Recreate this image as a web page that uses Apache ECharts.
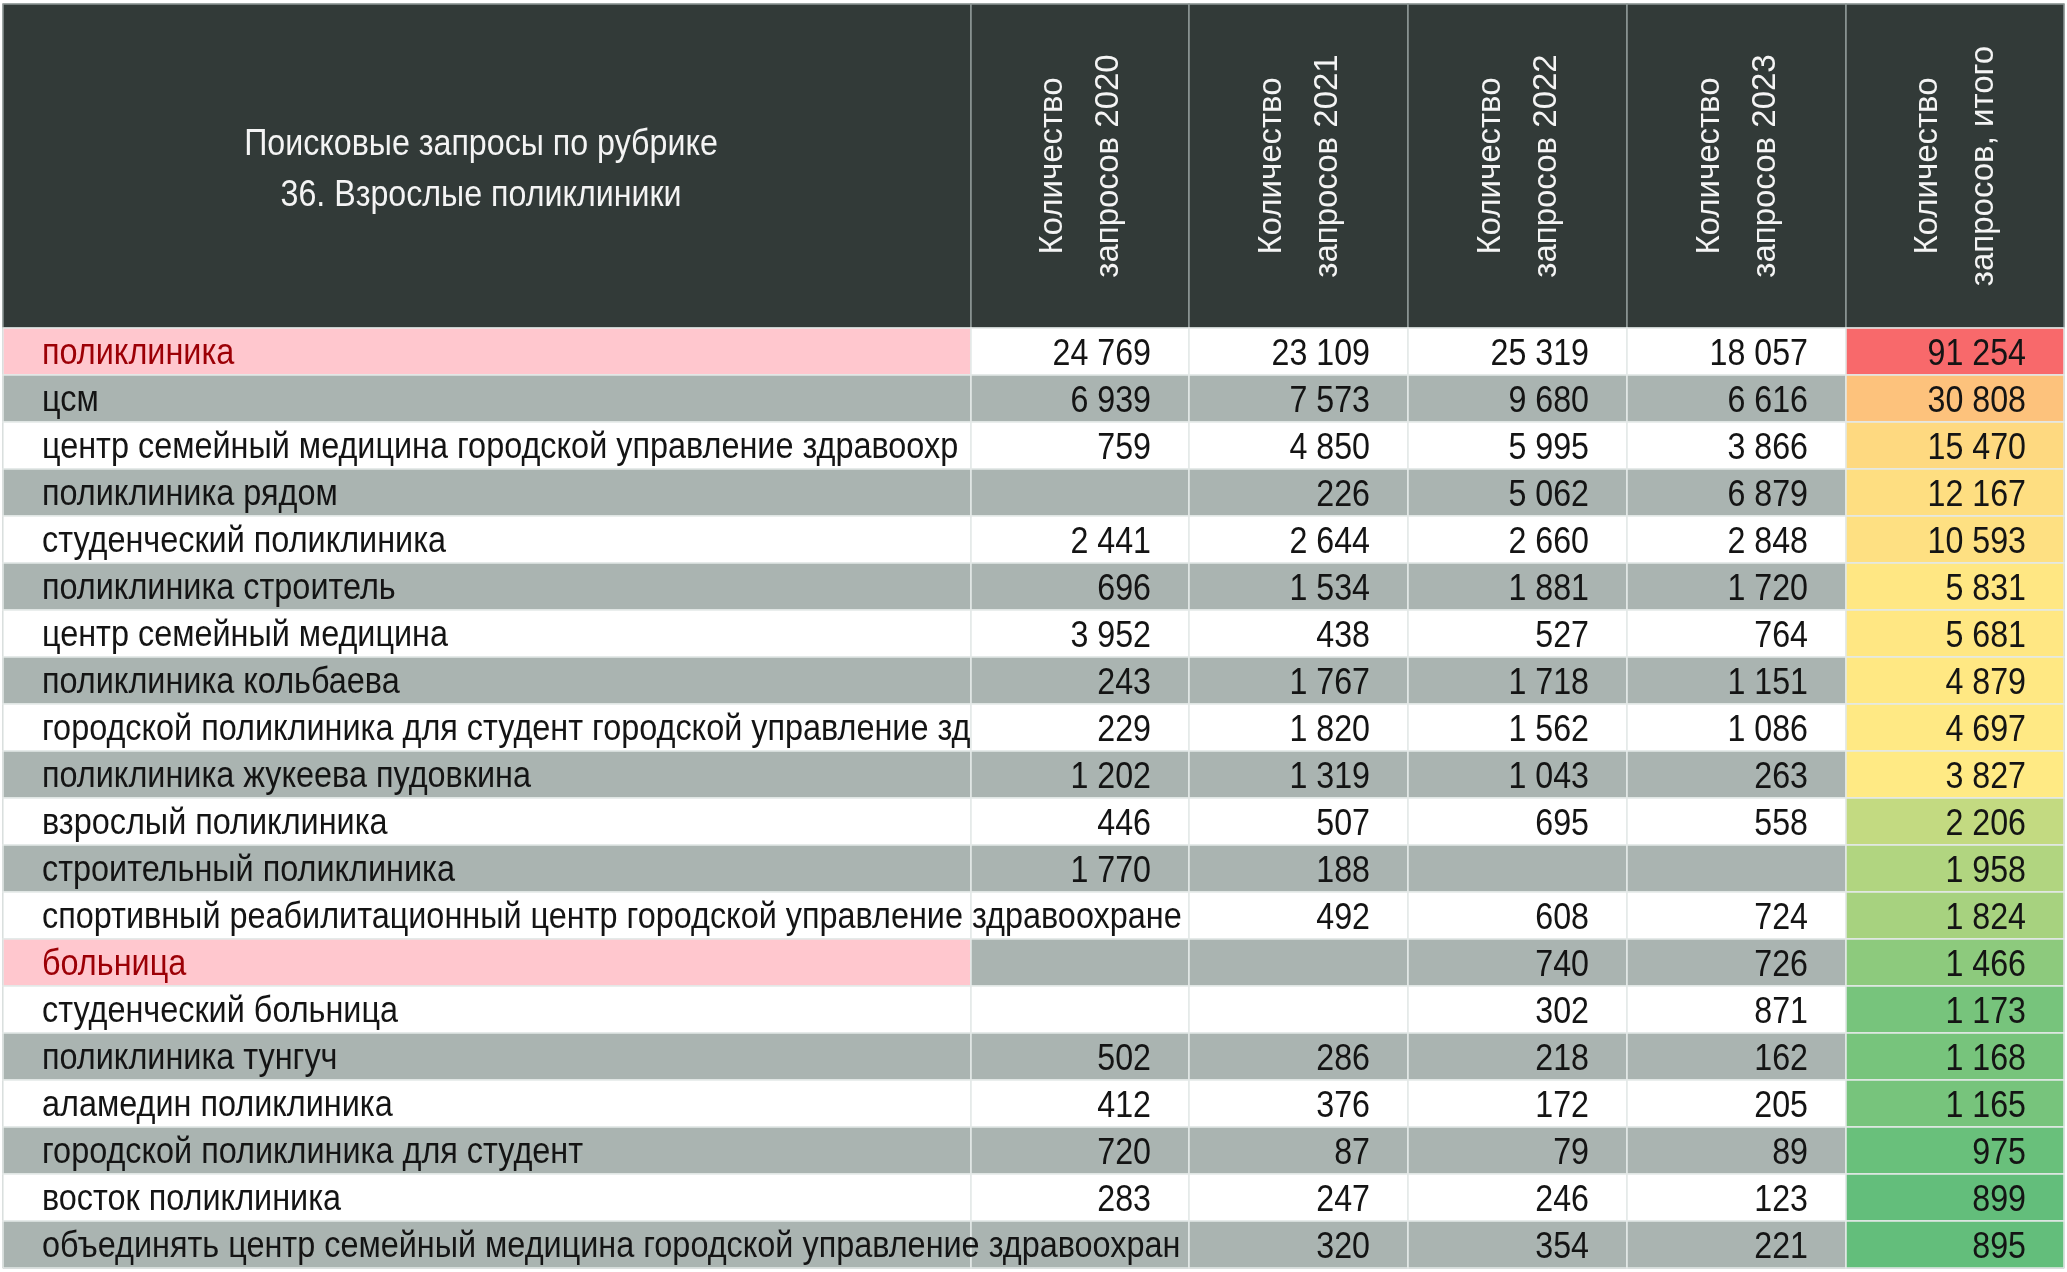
<!DOCTYPE html>
<html>
<head>
<meta charset="utf-8">
<script src="https://cdn.jsdelivr.net/npm/echarts@6/dist/echarts.min.js"></script>
<style>
html, body { margin: 0; padding: 0; background: #fff; }
#chart { width: 2067px; height: 1272px; }
</style>
</head>
<body>
<div id="chart"></div>
<script>
// данные таблицы
const titleLines = ['Поисковые запросы по рубрике', '36. Взрослые поликлиники']
const columnHeaders = [
    'Количество\nзапросов 2020',
    'Количество\nзапросов 2021',
    'Количество\nзапросов 2022',
    'Количество\nзапросов 2023',
    'Количество\nзапросов, итого'
]
const categories = [
    'поликлиника',
    'цсм',
    'центр семейный медицина городской управление здравоохранения',
    'поликлиника рядом',
    'студенческий поликлиника',
    'поликлиника строитель',
    'центр семейный медицина',
    'поликлиника кольбаева',
    'городской поликлиника для студент городской управление здравоохранения',
    'поликлиника жукеева пудовкина',
    'взрослый поликлиника',
    'строительный поликлиника',
    'спортивный реабилитационный центр городской управление здравоохранения',
    'больница',
    'студенческий больница',
    'поликлиника тунгуч',
    'аламедин поликлиника',
    'городской поликлиника для студент',
    'восток поликлиника',
    'объединять центр семейный медицина городской управление здравоохранения'
]
const v2020 = [24769, 6939, 759, null, 2441, 696, 3952, 243, 229, 1202, 446, 1770, null, null, null, 502, 412, 720, 283, null]
const v2021 = [23109, 7573, 4850, 226, 2644, 1534, 438, 1767, 1820, 1319, 507, 188, 492, null, null, 286, 376, 87, 247, 320]
const v2022 = [25319, 9680, 5995, 5062, 2660, 1881, 527, 1718, 1562, 1043, 695, null, 608, 740, 302, 218, 172, 79, 246, 354]
const v2023 = [18057, 6616, 3866, 6879, 2848, 1720, 764, 1151, 1086, 263, 558, null, 724, 726, 871, 162, 205, 89, 123, 221]
const vTotal = [91254, 30808, 15470, 12167, 10593, 5831, 5681, 4879, 4697, 3827, 2206, 1958, 1824, 1466, 1173, 1168, 1165, 975, 899, 895]
const highlighted = ['поликлиника', 'больница']

// оформление
const colWeights = [968, 218, 219, 219, 219, 218]
const colEdges = colWeights.reduce((acc, w) => { acc.push(acc[acc.length - 1] + w); return acc }, [0])
const yearCols = [v2020, v2021, v2022, v2023, vTotal]
const fontFam = "'Liberation Sans', Arial, sans-serif"
const squeeze = 0.87      // цифры — узко, как Arial Narrow
const nameSqueeze = 0.9
const nameFont = '36px ' + fontFam
const namePad = 39

const fmt = n => (n === null || n === undefined) ? '' : String(n).replace(/\B(?=(\d{3})+(?!\d))/g, ' ')

// обрезка длинных названий по границе ячейки
const measureCtx = document.createElement('canvas').getContext('2d')
function fitText(text, font, maxW) {
    measureCtx.font = font
    let s = text
    while (s.length && measureCtx.measureText(s).width > maxW) s = s.slice(0, -1)
    return s
}

function hex(c) { return [1, 3, 5].map(i => parseInt(c.substr(i, 2), 16)) }
function mix(a, b, t) {
    const A = hex(a), B = hex(b)
    return 'rgb(' + A.map((v, i) => Math.round(v + (B[i] - v) * t)).join(',') + ')'
}
// трёхцветная шкала как в Excel: min / 50-й перцентиль / max
const sortedTotal = vTotal.slice().sort((a, b) => a - b)
const tMin = sortedTotal[0], tMax = sortedTotal[sortedTotal.length - 1]
const p = 0.5 * (sortedTotal.length - 1)
const tMid = sortedTotal[Math.floor(p)] + (sortedTotal[Math.ceil(p)] - sortedTotal[Math.floor(p)]) * (p - Math.floor(p))
function scaleColor(v) {
    if (v <= tMid) return mix('#63BE7B', '#FFEB84', (v - tMin) / (tMid - tMin))
    return mix('#FFEB84', '#F8696B', (v - tMid) / (tMax - tMid))
}

const myChart = echarts.init(document.getElementById('chart'))

function renderHeader(params, api) {
    const col = api.value(0)
    const x0 = api.coord([colEdges[col], 0])[0]
    const x1 = api.coord([colEdges[col + 1], 0])[0]
    const cy = api.coord([0, 0])[1]
    const h = api.size([0, 1])[1]
    const children = [{
        type: 'rect',
        shape: { x: x0, y: cy - h / 2, width: x1 - x0, height: h },
        style: { fill: '#323a38', stroke: '#8f9896', lineWidth: 1.5 }
    }]
    if (col === 0) {
        children.push({
            type: 'text',
            x: (x0 + x1) / 2 - 6, y: cy + 4, scaleX: squeeze,
            style: {
                text: titleLines.join('\n'), fill: '#f4f4f4',
                font: '37px ' + fontFam, lineHeight: 51,
                align: 'center', verticalAlign: 'middle'
            }
        })
    } else {
        children.push({
            type: 'text',
            x: (x0 + x1) / 2 + 1, y: cy, rotation: Math.PI / 2,
            style: {
                text: columnHeaders[col - 1], fill: '#f4f4f4',
                font: '33px ' + fontFam, lineHeight: 56,
                align: 'center', verticalAlign: 'middle'
            }
        })
    }
    return { type: 'group', children: children }
}

function renderRow(params, api) {
    const row = api.value(1)
    const cy = api.coord([0, row])[1]
    const h = api.size([0, 1])[1]
    const y0 = cy - h / 2
    const rowBg = row % 2 === 1 ? '#aab4b1' : '#ffffff'
    const isHl = highlighted.indexOf(categories[row]) >= 0
    const children = []
    for (let c = 0; c < colWeights.length; c++) {
        const x0 = api.coord([colEdges[c], row])[0]
        const x1 = api.coord([colEdges[c + 1], row])[0]
        let fill = rowBg
        if (c === 0 && isHl) fill = '#ffc7ce'
        if (c === colWeights.length - 1) fill = scaleColor(vTotal[row])
        children.push({
            type: 'rect',
            shape: { x: x0, y: y0, width: x1 - x0, height: h },
            style: { fill: fill, stroke: '#e4e9e7', lineWidth: 1.5 }
        })
    }
    // название: текст заходит в пустые ячейки справа
    let edge = colEdges[colEdges.length - 1]
    for (let k = 0; k < yearCols.length; k++) {
        if (yearCols[k][row] !== null) { edge = colEdges[k + 1]; break }
    }
    const nx0 = api.coord([colEdges[0], row])[0]
    const nx1 = api.coord([edge, row])[0]
    children.push({
        type: 'text',
        x: nx0 + namePad, y: cy + 3, scaleX: nameSqueeze,
        style: {
            text: fitText(categories[row], nameFont, (nx1 - nx0 - namePad) / nameSqueeze),
            fill: isHl ? '#9c0006' : '#141414',
            font: nameFont,
            align: 'left', verticalAlign: 'middle'
        }
    })
    for (let k = 0; k < yearCols.length; k++) {
        const val = yearCols[k][row]
        if (val === null) continue
        const xr = api.coord([colEdges[k + 2], row])[0]
        children.push({
            type: 'text',
            x: xr - 38, y: cy + 3, scaleX: squeeze,
            style: {
                text: fmt(val), fill: '#141414',
                font: '37px ' + fontFam,
                align: 'right', verticalAlign: 'middle'
            }
        })
    }
    return { type: 'group', children: children }
}

const option = {
    backgroundColor: '#ffffff',
    animation: false,
    grid: [
        { left: 3, right: 3, top: 4, height: 324, show: true, borderColor: '#9aa09f', borderWidth: 1, backgroundColor: 'transparent' },
        { left: 3, right: 3, top: 328, height: 940, show: true, borderColor: '#7d8483', borderWidth: 1, backgroundColor: 'transparent' }
    ],
    xAxis: [
        { type: 'value', gridIndex: 0, min: 0, max: colEdges[colEdges.length - 1], show: false },
        { type: 'value', gridIndex: 1, min: 0, max: colEdges[colEdges.length - 1], show: false }
    ],
    yAxis: [
        { type: 'category', gridIndex: 0, data: ['header'], show: false },
        { type: 'category', gridIndex: 1, data: categories, inverse: true, show: false }
    ],
    series: [
        {
            type: 'custom', xAxisIndex: 0, yAxisIndex: 0, silent: true,
            renderItem: renderHeader,
            data: colWeights.map((w, i) => [i, 0])
        },
        {
            type: 'custom', xAxisIndex: 1, yAxisIndex: 1, silent: true,
            renderItem: renderRow,
            data: categories.map((c, i) => [0, i])
        }
    ]
}
myChart.setOption(option)
</script>
</body>
</html>
